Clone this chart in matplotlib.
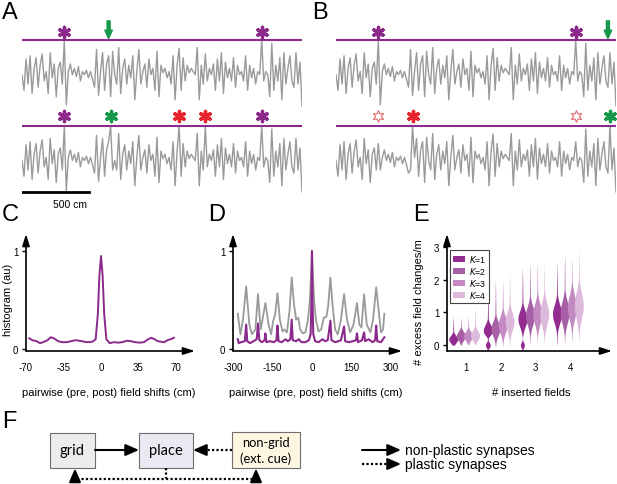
import numpy as np
import matplotlib
matplotlib.use('Agg')
import matplotlib.pyplot as plt
from matplotlib.patches import Rectangle, Patch

plt.rcParams['font.family'] = ['Liberation Sans', 'DejaVu Sans']

# ---------------- data ----------------
# A/B: activity trace along the track (one sample every 15 cm), 1.0 = threshold
trace_dx_cm = 15
trace_base = [0.45, 0.2, 0.7, 0.3, 0.75, 0.15, 0.55, 0.72, 0.25, 0.6,
              0.78, 0.35, 0.5, 0.15, 0.8, 0.4, 0.62, 0.1, 0.55, 0.65,
              0.3, 1.0, -0.03, 0.5, 0.62, 0.45, 0.55, 0.42, 0.58, 0.35,
              0.5, 0.45, 0.52, 0.4, 0.5, 0.38, 0.25, 0.85, 0.12, 0.5,
              0.8, 0.2, 0.62, 0.75, 0.1, 0.82, 0.45, 0.3, 0.88, 0.15,
              0.55, 0.7, 0.3, 0.6, 0.4, 0.75, 0.05, 0.5, 0.85, 0.3,
              0.5, 0.62, 0.25, 0.7, 0.45, 0.55, 0.2, 0.82, 0.1, 0.6,
              0.48, 0.55, 0.4, 0.5, 0.3, 0.75, 0.05, 0.6, 0.87, 0.2,
              0.72, 0.35, 0.6, 0.48, 0.55, 0.5, 0.45, 0.88, 0.05, 0.6,
              0.3, 0.78, 0.35, 0.55, 0.45, 0.62, 0.2, 0.7, 0.35, 0.8,
              0.15, 0.65, 0.4, 0.55, 0.35, 0.72, 0.25, 0.6, 0.45, 0.5,
              0.35, 0.75, 0.2, 0.6, 0.4, 0.55, 0.3, 0.5, 0.45, 1.0,
              0.35, 0.5, 0.45, 0.1, 0.95, 0.2, 0.6, 0.35, 0.72, 0.05,
              0.8, 0.3, 0.55, 0.75, 0.35, 0.25, 0.8, 0.3, 0.65, -0.05]
# changes after plasticity (sample index -> new value)
A_post_changes = {44: 1.0, 45: 0.3, 78: 1.0, 91: 1.0}
B_post_changes = {21: 0.72, 22: 0.3, 119: 0.75, 37: 0.3, 38: 1.0, 136: 1.0}
# markers (sample indices)
A_pre_purple = [21, 119]
A_pre_arrow = [43]
A_post_purple = [21, 119]
A_post_green = [44]
A_post_red = [78, 91]
B_pre_purple = [21, 119]
B_pre_arrow = [135]
B_post_lost = [21, 119]
B_post_red = [38]
B_post_green = [136]
scalebar_cm = 500

# C: histogram of field shifts
C_x = [-67, -64, -60, -57, -54, -50, -47, -44, -40, -36, -32, -28, -24, -20, -16, -12, -8, -5,
       -3, -1.5, 0, 1.5, 3, 5, 8, 12, 16, 20, 24, 28, 32, 36, 40, 44, 47, 50, 53, 56, 59, 62, 65, 68]
C_y = [0.11, 0.09, 0.08, 0.06, 0.07, 0.09, 0.12, 0.11, 0.08, 0.07, 0.07, 0.08, 0.09, 0.085, 0.075,
       0.07, 0.075, 0.1, 0.35, 0.75, 0.95, 0.75, 0.35, 0.1, 0.06, 0.07, 0.065, 0.07, 0.085, 0.08,
       0.07, 0.065, 0.07, 0.1, 0.115, 0.1, 0.08, 0.075, 0.07, 0.09, 0.1, 0.115]
C_xticks = [-70, -35, 0, 35, 70]

# D: grey and purple histograms
D_grey_x = [-282, -272, -262, -250, -238, -228, -215, -205, -195, -188, -177, -165, -155, -148,
            -140, -131, -122, -112, -105, -95, -85, -77, -68, -60, -52, -45, -35, -25, -15, -8,
            -3, 0, 3, 8, 15, 25, 35, 45, 55, 62, 70, 78, 88, 98, 110, 122, 133, 145, 158, 171,
            180, 188, 198, 208, 222, 232, 244, 255, 262, 270, 275]
D_grey_y = [0.36, 0.15, 0.3, 0.64, 0.25, 0.15, 0.2, 0.56, 0.2, 0.3, 0.47, 0.25, 0.15, 0.28,
            0.35, 0.57, 0.3, 0.18, 0.2, 0.17, 0.4, 0.73, 0.45, 0.3, 0.32, 0.2, 0.16, 0.17, 0.3,
            0.5, 0.8, 1.0, 0.8, 0.5, 0.3, 0.18, 0.2, 0.32, 0.33, 0.45, 0.73, 0.45, 0.2, 0.15,
            0.3, 0.56, 0.3, 0.17, 0.25, 0.47, 0.25, 0.22, 0.56, 0.25, 0.17, 0.3, 0.63, 0.35,
            0.17, 0.2, 0.36]
D_purple_x = [-282, -278, -270, -255, -250, -246, -235, -222, -210, -205, -200, -190, -180, -177,
              -173, -160, -145, -135, -131, -127, -115, -100, -92, -82, -77, -73, -60, -50, -40,
              -25, -12, -5, -2, 0, 2, 5, 12, 25, 40, 50, 60, 70, 74, 88, 100, 110, 122, 126, 140,
              155, 167, 171, 175, 190, 198, 202, 215, 230, 240, 244, 248, 262, 275]
D_purple_y = [0.1, 0.06, 0.07, 0.08, 0.25, 0.08, 0.06, 0.08, 0.1, 0.26, 0.09, 0.07, 0.09, 0.16,
              0.07, 0.08, 0.07, 0.09, 0.24, 0.08, 0.07, 0.1, 0.08, 0.1, 0.3, 0.09, 0.08, 0.1, 0.07,
              0.07, 0.09, 0.15, 0.5, 1.0, 0.5, 0.15, 0.08, 0.07, 0.1, 0.08, 0.09, 0.29, 0.09, 0.07,
              0.08, 0.09, 0.23, 0.08, 0.07, 0.08, 0.09, 0.16, 0.07, 0.09, 0.17, 0.08, 0.1, 0.07,
              0.09, 0.24, 0.08, 0.07, 0.12]
D_xticks = [-300, -150, 0, 150, 300]

# E: violins (# inserted fields x K)
E_groups = [1, 2, 3, 4]
E_K_labels = ['1', '2', '3', '4']
E_lo = [[0.0, 0.0, 0.02, 0.02], [-0.15, -0.05, -0.05, -0.05], [-0.14, 0.05, 0.08, 0.05], [0.0, 0.07, 0.1, 0.1]]
E_hi = [[0.88, 0.85, 0.9, 1.15], [1.73, 2.0, 1.96, 2.23], [2.35, 2.5, 2.52, 2.5], [2.5, 2.77, 2.65, 3.0]]
E_mode = [[0.18, 0.28, 0.28, 0.3], [0.45, 0.5, 0.62, 0.72], [0.8, 0.9, 0.95, 0.95], [0.95, 1.0, 1.15, 1.2]]
E_spread = [[0.11, 0.13, 0.13, 0.14], [0.17, 0.21, 0.24, 0.26], [0.24, 0.28, 0.3, 0.32], [0.28, 0.32, 0.35, 0.38]]
E_zero_mode = [[0, 0, 0, 0], [0.55, 0, 0, 0], [0.45, 0, 0, 0], [0, 0, 0, 0]]

# ---------------- styling ----------------
W, H = 617, 485
fig = plt.figure(figsize=(W / 100, H / 100), dpi=100)
PURPLE = '#8c2a8c'
GREY = '#9a9a9a'
RED = '#e8232b'
GREEN = '#16984a'
K_COLORS = ['#932c8f', '#a75fa6', '#c489c2', '#ddb9db']


def ax_px(l, t, r, b, **kw):
    return fig.add_axes([l / W, 1 - b / H, (r - l) / W, (b - t) / H], **kw)


ov = ax_px(0, 0, W, H)
ov.set_xlim(0, W)
ov.set_ylim(H, 0)
ov.axis('off')


def ftext(x, y, s, **kw):
    ov.text(x, y, s, **kw)


# panel letters
for lab, (x, y) in {'A': (2, 13), 'B': (312, 13), 'C': (2, 215), 'D': (208, 215),
                    'E': (413, 215), 'F': (2, 422)}.items():
    ftext(x, y, lab, fontsize=17, ha='left', va='center')

# ---------------- A & B ----------------
OFF = 1.365


def trace_panel(left, pre, post, pre_marks, post_marks, arrow_idx, lost_idx, scalebar):
    ax = ax_px(left, 20, left + 280, 215)
    n = len(pre)
    xs = np.arange(n) * trace_dx_cm
    ax.set_xlim(0, xs[-1])
    ax.set_ylim(-0.4, 2.7)
    ax.axis('off')
    ax.plot(xs, np.array(pre) + OFF, color=GREY, lw=1.0)
    ax.plot(xs, post, color=GREY, lw=1.0)
    ax.plot([0, xs[-1]], [1 + OFF, 1 + OFF], color=PURPLE, lw=1.5)
    ax.plot([0, xs[-1]], [1, 1], color=PURPLE, lw=1.5)
    for idxs, col in pre_marks:
        ax.scatter(xs[idxs], [2.49] * len(idxs), marker=(6, 2, 0), s=55, color=col, lw=2.4, zorder=5)
    for idxs, col in post_marks:
        ax.scatter(xs[idxs], [1.16] * len(idxs), marker=(6, 2, 0), s=55, color=col, lw=2.4, zorder=5)
    if lost_idx:
        ax.scatter(xs[lost_idx], [1.16] * len(lost_idx), marker=(6, 1, 0), s=70,
                   facecolor='white', edgecolor='#e06a6a', lw=0.8, zorder=5)
    for i in arrow_idx:
        ax.annotate('', xy=(xs[i], 2.39), xytext=(xs[i], 2.67),
                    arrowprops=dict(arrowstyle='simple,head_length=0.5,head_width=0.45,tail_width=0.18',
                                    color=GREEN, shrinkA=0, shrinkB=0, mutation_scale=12))
    if scalebar:
        ax.plot([0, scalebar_cm], [-0.05, -0.05], color='k', lw=2)
    return ax


A_post = list(trace_base)
for k, v in A_post_changes.items():
    A_post[k] = v
B_post = list(trace_base)
for k, v in B_post_changes.items():
    B_post[k] = v

trace_panel(22, trace_base, A_post,
            [(A_pre_purple, PURPLE)],
            [(A_post_purple, PURPLE), (A_post_green, GREEN), (A_post_red, RED)],
            A_pre_arrow, [], True)
trace_panel(336, trace_base, B_post,
            [(B_pre_purple, PURPLE)],
            [(B_post_red, RED), (B_post_green, GREEN)],
            B_pre_arrow, B_post_lost, False)
ftext(70, 205, '500 cm', fontsize=7.5, ha='center', va='center')


# ---------------- axes helpers ----------------
def arrow_axes(ax):
    for s in ax.spines.values():
        s.set_visible(False)
    ax.annotate('', xy=(1, 0), xytext=(0, 0), xycoords='axes fraction',
                arrowprops=dict(arrowstyle='-|>,head_length=0.7,head_width=0.22', lw=1.2, color='k',
                                shrinkA=0, shrinkB=0, mutation_scale=10))
    ax.annotate('', xy=(0, 1), xytext=(0, 0), xycoords='axes fraction',
                arrowprops=dict(arrowstyle='-|>,head_length=0.7,head_width=0.22', lw=1.2, color='k',
                                shrinkA=0, shrinkB=0, mutation_scale=10))
    ax.patch.set_visible(False)
    ax.tick_params(axis='x', length=0, pad=8, labelsize=7)
    ax.tick_params(axis='y', length=3, width=1, pad=2.5, labelsize=7)


# ---------------- C ----------------
axC = ax_px(26, 235, 195, 352)
axC.set_xlim(-70, 87.7)
axC.set_ylim(-0.02, 1.174)
arrow_axes(axC)
axC.plot(C_x, C_y, color=PURPLE, lw=1.4)
axC.set_xticks(C_xticks)
axC.set_xticklabels([str(v) for v in C_xticks])
axC.set_yticks([0, 1])
axC.set_yticklabels(['0', '1'])
ftext(8, 300, 'histogram (au)', fontsize=8, rotation=90, ha='center', va='center')
ftext(109, 393, 'pairwise (pre, post) field shifts (cm)', fontsize=8, ha='center', va='center')

# ---------------- D ----------------
axD = ax_px(233, 235, 402, 352)
axD.set_xlim(-300, 342)
axD.set_ylim(-0.02, 1.174)
arrow_axes(axD)
axD.plot(D_grey_x, D_grey_y, color=GREY, lw=1.3)
axD.plot(D_purple_x, D_purple_y, color=PURPLE, lw=1.5)
axD.set_xticks(D_xticks)
axD.set_xticklabels([str(v) for v in D_xticks])
axD.set_yticks([0, 1])
axD.set_yticklabels(['0', '1'])
ftext(316, 393, 'pairwise (pre, post) field shifts (cm)', fontsize=8, ha='center', va='center')

# ---------------- E ----------------
axE = ax_px(447, 235, 612, 352)
axE.set_xlim(0.44, 5.21)
axE.set_ylim(-0.18, 3.39)
arrow_axes(axE)
k_offsets = [-0.38, -0.16, 0.05, 0.25]
half_w = 0.13
for gi, g in enumerate(E_groups):
    for k in range(4):
        lo, hi = E_lo[gi][k], E_hi[gi][k]
        mu, sd = E_mode[gi][k], E_spread[gi][k]
        y = np.linspace(lo, hi, 300)
        d = np.exp(-0.5 * ((y - mu) / sd) ** 2)
        up = np.clip((hi - y) / (hi - mu), 0, 1) ** 0.7
        dn = np.clip((y - lo) / max(mu - lo, 1e-3), 0, 1) ** 0.5
        tail = 0.13 * np.where(y > mu, up, dn)
        d = np.maximum(d, tail)
        if E_zero_mode[gi][k] > 0:
            z = E_zero_mode[gi][k] * np.exp(-0.5 * ((y - 0.0) / 0.08) ** 2)
            d = np.maximum(d * (1 - 0.7 * np.exp(-0.5 * ((y - 0.2) / 0.06) ** 2)), z)
        d = d / d.max() * half_w
        pos = g + k_offsets[k]
        axE.fill_betweenx(y, pos - d, pos + d, color=K_COLORS[k], lw=0, clip_on=False)
axE.set_xticks(E_groups)
axE.set_xticklabels([str(g) for g in E_groups])
axE.set_yticks([0, 1, 2, 3])
axE.set_yticklabels(['0', '1', '2', '3'])
handles = [Patch(facecolor=c, edgecolor='none') for c in K_COLORS]
labels = [r'$\it{K}$=' + s for s in E_K_labels]
leg = axE.legend(handles, labels, loc='upper left', bbox_to_anchor=(0.02, 0.86), fontsize=6.3,
                 frameon=True, fancybox=False, edgecolor='#444444', framealpha=1,
                 handlelength=1.4, handleheight=0.7, handletextpad=0.4, borderpad=0.3,
                 labelspacing=0.12, borderaxespad=0)
leg.get_frame().set_linewidth(0.8)
ftext(419, 302, '# excess field changes/m', fontsize=8, rotation=90, ha='center', va='center')
ftext(531, 393, '# inserted fields', fontsize=8, ha='center', va='center')

# ---------------- F ----------------
boxes = [(50, 434, 95, 469, '#ececec', 'grid'),
         (139, 434, 193, 469, '#ece8f2', 'place'),
         (232, 433, 300, 469, '#fdf7e2', 'non-grid\n(ext. cue)')]
for (l, t, r, b, fc, txt) in boxes:
    ov.add_patch(Rectangle((l, t), r - l, b - t, facecolor=fc, edgecolor='#6e6e6e', lw=0.8))
    ov.text((l + r) / 2, (t + b) / 2, txt, fontsize=10.5 if '\n' not in txt else 9.3,
            family=['Lato', 'DejaVu Sans'], ha='center', va='center', linespacing=1.3)

AP = dict(arrowstyle='-|>,head_length=0.8,head_width=0.35', color='k', lw=1.5,
          shrinkA=0, shrinkB=0, mutation_scale=10)


def solid_arrow(x0, y0, x1, y1):
    ov.annotate('', xy=(x1, y1), xytext=(x0, y0), arrowprops=AP)


def dotted_arrow(x0, y0, x1, y1):
    # dotted shaft + solid head
    fx = x1 - x0
    fy = y1 - y0
    L = np.hypot(fx, fy)
    ux, uy = fx / L, fy / L
    ov.plot([x0, x1 - 6 * ux], [y0, y1 - 6 * uy], color='k', lw=1.6, ls=(0, (1, 1)))
    ov.annotate('', xy=(x1, y1), xytext=(x1 - 7 * ux, y1 - 7 * uy), arrowprops=AP)


solid_arrow(95, 451, 139, 451)
dotted_arrow(232, 451, 193, 451)
ov.plot([166, 166, 75, 75], [469, 480, 480, 476], color='k', lw=1.6, ls=(0, (1, 1)))
ov.plot([166, 256, 256], [480, 480, 476], color='k', lw=1.6, ls=(0, (1, 1)))
ov.annotate('', xy=(75, 469.5), xytext=(75, 477), arrowprops=AP)
ov.annotate('', xy=(256, 469.5), xytext=(256, 477), arrowprops=AP)

solid_arrow(362, 451, 401, 451)
dotted_arrow(362, 465, 401, 465)
ftext(405, 451, 'non-plastic synapses', fontsize=10, ha='left', va='center')
ftext(405, 465, 'plastic synapses', fontsize=10, ha='left', va='center')

fig.savefig('out.png', dpi=100)
